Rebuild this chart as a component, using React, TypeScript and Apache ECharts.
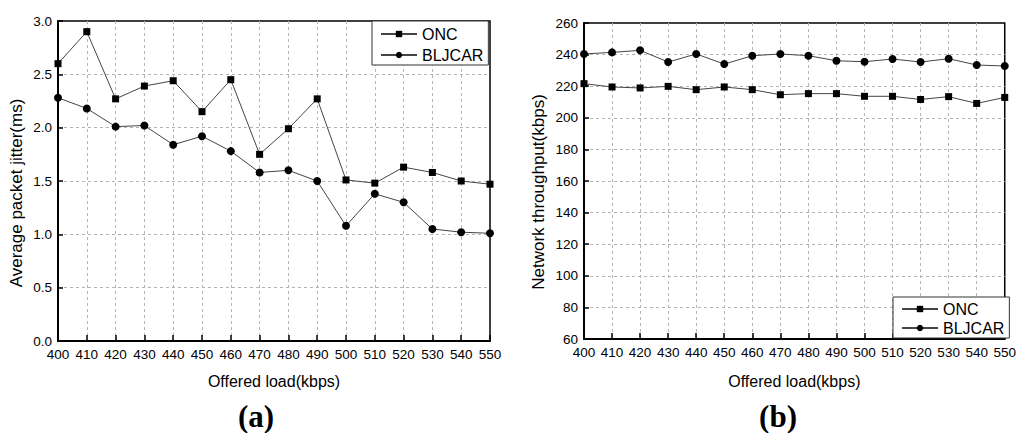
import React, { useEffect, useRef } from "react";
import * as echarts from "echarts";

const loads = [400, 410, 420, 430, 440, 450, 460, 470, 480, 490, 500, 510, 520, 530, 540, 550];
const seriesNames = ["ONC", "BLJCAR"];
const jitterONC = [2.6, 2.9, 2.27, 2.39, 2.44, 2.15, 2.45, 1.75, 1.99, 2.27, 1.51, 1.48, 1.63, 1.58, 1.5, 1.47];
const jitterBLJCAR = [2.28, 2.18, 2.01, 2.02, 1.84, 1.92, 1.78, 1.58, 1.6, 1.5, 1.08, 1.38, 1.3, 1.05, 1.02, 1.01];
const throughputONC = [221.6, 219.5, 218.9, 219.9, 217.8, 219.5, 217.8, 214.6, 215.3, 215.3, 213.6, 213.6, 211.6, 213.4, 209.1, 212.9];
const throughputBLJCAR = [240.4, 241.4, 242.7, 235.3, 240.4, 234.0, 239.3, 240.4, 239.3, 236.1, 235.5, 237.2, 235.3, 237.4, 233.4, 232.8];
const xAxisTitle = "Offered load(kbps)";
const yTitleA = "Average packet jitter(ms)";
const yTitleB = "Network throughput(kbps)";
const panelLabels = ["(a)", "(b)"];

const FONT = "'Liberation Sans', Arial, sans-serif";

function pairs(values: number[]) {
  return loads.map((x, i) => [x, values[i]]);
}

export default function App() {
  const ref = useRef<HTMLDivElement>(null);
  useEffect(() => {
    if (!ref.current) return;
    const chart = echarts.init(ref.current, null, { renderer: "svg" });

    const split = { show: true, showMinLine: false, showMaxLine: false, lineStyle: { color: "#b4b4b4", width: 1, type: [3, 3] } };

    const xAxisBase = (gridIndex: number, nameGap: number) => ({
      type: "value",
      gridIndex,
      min: 400,
      max: 550,
      interval: 10,
      name: xAxisTitle,
      nameLocation: "middle",
      nameGap,
      nameTextStyle: { fontFamily: FONT, fontSize: 16, color: "#000" },
      axisLine: { show: true, onZero: false, lineStyle: { color: "#000", width: 2 } },
      axisTick: { show: true, inside: true, length: 6, lineStyle: { color: "#000", width: 1.5 } },
      axisLabel: { fontFamily: FONT, fontSize: 13.5, color: "#000", margin: 6, hideOverlap: false },
      splitLine: split,
    });

    const yAxisBase = (gridIndex: number, min: number, max: number, interval: number, dec: number) => ({
      type: "value",
      gridIndex,
      min,
      max,
      interval,
      axisLine: { show: true, lineStyle: { color: "#000", width: 2 } },
      axisTick: { show: true, inside: true, length: 5, lineStyle: { color: "#000", width: 1.5 } },
      axisLabel: {
        fontFamily: FONT,
        fontSize: 13.5,
        color: "#000",
        margin: 6,
        formatter: (v: number) => v.toFixed(dec),
      },
      splitLine: split,
    });

    const lineSeries = (name: string, values: number[], idx: number, symbol: string, size: number) => ({
      type: "line",
      name,
      xAxisIndex: idx,
      yAxisIndex: idx,
      data: pairs(values),
      symbol,
      symbolSize: size,
      lineStyle: { color: "#444", width: 1 },
      itemStyle: { color: "#000" },
      z: 3,
    });

    const legendBase = (left: number, top: number, gap: number, padding: number[]) => ({
      show: true,
      orient: "vertical",
      left,
      top,
      data: seriesNames,
      itemWidth: 36,
      itemHeight: 8,
      itemGap: gap,
      padding,
      borderColor: "#333",
      borderWidth: 1,
      backgroundColor: "#fff",
      textStyle: { fontFamily: FONT, fontSize: 16, color: "#000" },
      selectedMode: false,
      z: 10,
    });

    chart.setOption({
      animation: false,
      backgroundColor: "#fff",
      grid: [
        { left: 58, top: 21, width: 432, height: 320, show: true, borderColor: "#000", borderWidth: 1.5, backgroundColor: "transparent" },
        { left: 584, top: 23, width: 427, height: 316, show: true, borderColor: "#000", borderWidth: 1.5, backgroundColor: "transparent" },
      ],
      xAxis: [xAxisBase(0, 32), xAxisBase(1, 34)],
      yAxis: [yAxisBase(0, 0, 3, 0.5, 1), yAxisBase(1, 60, 260, 20, 0)],
      legend: [
        legendBase(372, 21, 5, [5, 5, 2, 8]),
        legendBase(893, 297, 3, [4, 5, 2, 8]),
      ],
      series: [
        lineSeries(seriesNames[0], jitterONC, 0, "rect", 7),
        lineSeries(seriesNames[1], jitterBLJCAR, 0, "circle", 8),
        lineSeries(seriesNames[0], throughputONC, 1, "rect", 7),
        lineSeries(seriesNames[1], throughputBLJCAR, 1, "circle", 8),
      ],
      graphic: [
        {
          type: "text",
          x: 16.5,
          y: 193,
          rotation: Math.PI / 2,
          style: { text: yTitleA, fontFamily: FONT, fontSize: 17, fill: "#000", textAlign: "center", textVerticalAlign: "middle" },
        },
        {
          type: "text",
          x: 538.5,
          y: 192,
          rotation: Math.PI / 2,
          style: { text: yTitleB, fontFamily: FONT, fontSize: 17, fill: "#000", textAlign: "center", textVerticalAlign: "middle" },
        },
        {
          type: "text",
          x: 256,
          y: 416,
          style: { text: panelLabels[0], fontFamily: "'Liberation Serif', 'Times New Roman', serif", fontWeight: "bold", fontSize: 31, fill: "#000", textAlign: "center", textVerticalAlign: "middle" },
        },
        {
          type: "text",
          x: 778,
          y: 416,
          style: { text: panelLabels[1], fontFamily: "'Liberation Serif', 'Times New Roman', serif", fontWeight: "bold", fontSize: 31, fill: "#000", textAlign: "center", textVerticalAlign: "middle" },
        },
      ],
    });
    return () => chart.dispose();
  }, []);

  return (
    <div
      ref={ref}
      style={{ position: "absolute", left: 0, top: 0, width: 1019, height: 433, background: "#fff" }}
    />
  );
}
